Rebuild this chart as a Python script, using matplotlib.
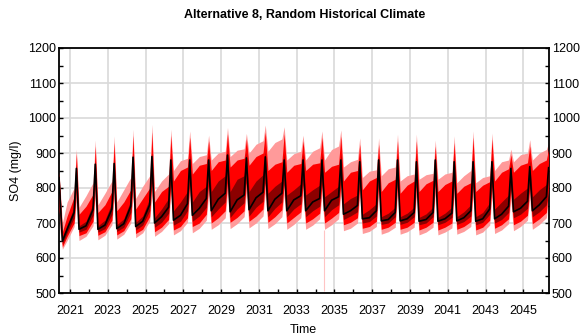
import matplotlib
matplotlib.use("Agg")
import matplotlib.pyplot as plt
import numpy as np
from matplotlib.ticker import MultipleLocator

plt.rcParams['font.family'] = ['Liberation Sans', 'DejaVu Sans']

# --- data (mg/l) ---
# one row per seasonal cycle ending in spring 2021 ... 2046
# columns: trough after spring peak, autumn, late winter, spring peak
cycle_years = list(range(2020, 2046))
phase = [0.48, 0.85, 1.22, 1.34]      # time of each column within a cycle
start_time = 2020.42
first_trough = 2020.60

median = [
    (648, 682, 730, 856), (682, 692, 738, 868), (682, 694, 740, 870), (684, 698, 748, 888),
    (690, 705, 752, 890), (700, 718, 745, 880), (708, 722, 755, 880), (722, 742, 770, 880),
    (735, 768, 785, 894), (732, 766, 780, 886), (738, 772, 788, 889), (735, 768, 785, 880),
    (735, 766, 778, 880), (735, 760, 770, 880), (735, 765, 775, 880), (725, 735, 750, 875),
    (712, 715, 735, 880), (706, 710, 730, 880), (706, 712, 730, 875), (705, 710, 730, 880),
    (705, 712, 728, 875), (706, 715, 735, 875), (705, 712, 740, 875), (712, 725, 748, 856),
    (732, 742, 762, 861), (735, 752, 775, 858),
]
inner_lo = [
    (640, 672, 715, 820), (674, 682, 722, 830), (674, 684, 724, 832), (676, 688, 730, 845),
    (680, 694, 735, 850), (688, 702, 728, 840), (694, 705, 735, 840), (705, 720, 745, 840),
    (718, 740, 760, 850), (716, 740, 758, 845), (720, 745, 762, 848), (718, 742, 760, 840),
    (718, 740, 755, 840), (718, 735, 748, 840), (718, 738, 752, 840), (710, 720, 732, 835),
    (700, 704, 720, 840), (696, 700, 718, 840), (696, 702, 718, 835), (695, 700, 718, 840),
    (695, 702, 716, 835), (696, 704, 720, 835), (695, 702, 725, 835), (700, 710, 730, 820),
    (715, 725, 742, 825), (718, 732, 752, 822),
]
inner_hi = [
    (660, 695, 745, 868), (692, 705, 755, 880), (692, 708, 758, 882), (695, 712, 765, 900),
    (702, 720, 770, 902), (715, 740, 770, 895), (735, 760, 790, 895), (760, 790, 805, 898),
    (790, 820, 835, 910), (790, 825, 835, 902), (790, 820, 838, 905), (785, 805, 820, 898),
    (780, 795, 812, 898), (780, 795, 808, 898), (775, 790, 805, 898), (755, 770, 780, 892),
    (725, 738, 755, 895), (718, 728, 745, 895), (718, 728, 745, 892), (716, 726, 745, 895),
    (716, 728, 745, 892), (718, 732, 752, 892), (718, 730, 758, 892), (740, 760, 780, 875),
    (768, 785, 800, 878), (775, 795, 810, 875),
]
mid_lo = [
    (632, 662, 700, 790), (664, 672, 705, 800), (665, 675, 708, 800), (666, 678, 712, 810),
    (670, 682, 718, 815), (675, 688, 710, 810), (680, 690, 715, 810), (690, 700, 725, 810),
    (700, 715, 735, 815), (702, 716, 735, 815), (705, 720, 740, 815), (702, 718, 738, 810),
    (700, 716, 732, 810), (700, 712, 728, 810), (700, 714, 730, 810), (695, 702, 715, 805),
    (685, 690, 705, 810), (682, 688, 702, 810), (682, 688, 702, 805), (680, 688, 702, 810),
    (680, 688, 700, 805), (682, 690, 704, 805), (680, 688, 708, 805), (685, 695, 712, 795),
    (695, 705, 722, 800), (698, 712, 730, 800),
]
mid_hi = [
    (675, 720, 775, 900), (725, 748, 782, 920), (730, 752, 790, 930), (735, 760, 795, 950),
    (740, 770, 800, 960), (760, 790, 805, 950), (820, 850, 860, 945), (840, 865, 870, 935),
    (850, 875, 880, 955), (860, 880, 885, 940), (865, 890, 900, 960), (850, 868, 875, 955),
    (845, 865, 870, 935), (850, 868, 872, 945), (845, 862, 868, 948), (820, 845, 850, 925),
    (795, 820, 830, 925), (790, 815, 825, 935), (785, 808, 820, 935), (790, 812, 822, 920),
    (790, 810, 820, 930), (785, 805, 815, 945), (790, 808, 818, 940), (820, 845, 855, 895),
    (845, 865, 872, 920), (850, 870, 880, 912),
]
outer_lo = [
    (625, 650, 690, 760), (650, 662, 692, 770), (652, 665, 695, 770), (654, 668, 700, 775),
    (658, 672, 705, 780), (662, 676, 698, 780), (666, 678, 702, 780), (672, 685, 708, 780),
    (682, 695, 715, 785), (684, 698, 718, 785), (686, 700, 720, 785), (684, 698, 718, 780),
    (682, 696, 715, 780), (682, 694, 712, 780), (682, 695, 712, 780), (678, 685, 700, 775),
    (670, 676, 690, 780), (668, 675, 688, 780), (668, 675, 688, 775), (666, 674, 688, 780),
    (666, 674, 686, 775), (668, 676, 690, 775), (666, 674, 694, 775), (670, 680, 698, 765),
    (678, 690, 708, 770), (682, 696, 715, 770),
]
outer_hi = [
    (700, 760, 800, 911), (745, 778, 815, 937), (752, 785, 820, 949), (760, 795, 830, 968),
    (770, 805, 835, 982), (790, 820, 840, 968), (850, 878, 885, 963), (870, 890, 895, 951),
    (880, 900, 905, 973), (890, 908, 912, 956), (900, 925, 935, 980), (905, 930, 940, 975),
    (880, 898, 905, 951), (880, 905, 915, 963), (880, 910, 920, 966), (860, 875, 882, 943),
    (830, 848, 852, 943), (835, 855, 860, 954), (820, 835, 840, 954), (825, 838, 842, 937),
    (825, 840, 845, 949), (815, 835, 850, 963), (815, 830, 835, 957), (850, 875, 880, 911),
    (875, 895, 900, 938), (880, 900, 910, 929),
]
# values at the left edge of the plot
start_vals = {'outer_lo': 700, 'mid_lo': 740, 'inner_lo': 800, 'median': 830,
              'inner_hi': 838, 'mid_hi': 845, 'outer_hi': 850}
# single low outlier in the outer band
dip_time, dip_low, dip_top = 2034.45, 505, 680


def build_times():
    t = [start_time]
    for k, y in enumerate(cycle_years):
        ph = list(phase)
        if k == 0:
            ph[0] = first_trough - y
        t.extend(y + np.array(ph))
    return np.array(t)


def build_series(name, cycles):
    return np.concatenate([[start_vals[name]], np.array(cycles, dtype=float).ravel()])


t = build_times()
o_lo, o_hi = build_series('outer_lo', outer_lo), build_series('outer_hi', outer_hi)
m_lo, m_hi = build_series('mid_lo', mid_lo), build_series('mid_hi', mid_hi)
i_lo, i_hi = build_series('inner_lo', inner_lo), build_series('inner_hi', inner_hi)
med = build_series('median', median)

fig = plt.figure(figsize=(5.82, 3.36), dpi=100)
ax = fig.add_axes([59 / 582, 1 - 293 / 336, 490 / 582, 245 / 336])

ax.fill_between(t, o_lo, o_hi, color='#ff9a9a', lw=0, zorder=2)
ax.vlines(dip_time, dip_low, dip_top, color='#ffc4c4', lw=0.8, zorder=2)
ax.fill_between(t, m_lo, m_hi, color='#ff0000', lw=0, zorder=3)
ax.fill_between(t, i_lo, i_hi, color='#8c0000', lw=0, zorder=4)
ax.plot(t, med, color='black', lw=1.2, zorder=5)

ax.set_xlim(start_time, 2046.36)
ax.set_ylim(500, 1200)
ax.set_xticks(np.arange(2021, 2046, 2))
ax.xaxis.set_minor_locator(MultipleLocator(1))
ax.set_yticks(np.arange(500, 1201, 100))
ax.yaxis.set_minor_locator(MultipleLocator(50))
ax.grid(True, which='major', color='#d9d9d9', lw=1.2, zorder=0)
ax.set_axisbelow(True)

ax.tick_params(which='both', direction='in', length=3, width=1, labelsize=9,
               right=True, labelright=True, top=False)
ax.tick_params(axis='x', which='major', pad=9)
ax.tick_params(axis='y', which='major', pad=2)
for sp in ax.spines.values():
    sp.set_linewidth(1.3)

fig.text(305 / 582, 1 - 15 / 336, 'Alternative 8, Random Historical Climate',
         ha='center', va='center', fontsize=9, fontweight='bold')
fig.text(15.5 / 582, 1 - 170.5 / 336, 'SO4 (mg/l)', rotation=90,
         ha='center', va='center', fontsize=9)
fig.text(303 / 582, 1 - 330 / 336, 'Time', ha='center', va='center', fontsize=9)

fig.savefig('out.png', dpi=100)
